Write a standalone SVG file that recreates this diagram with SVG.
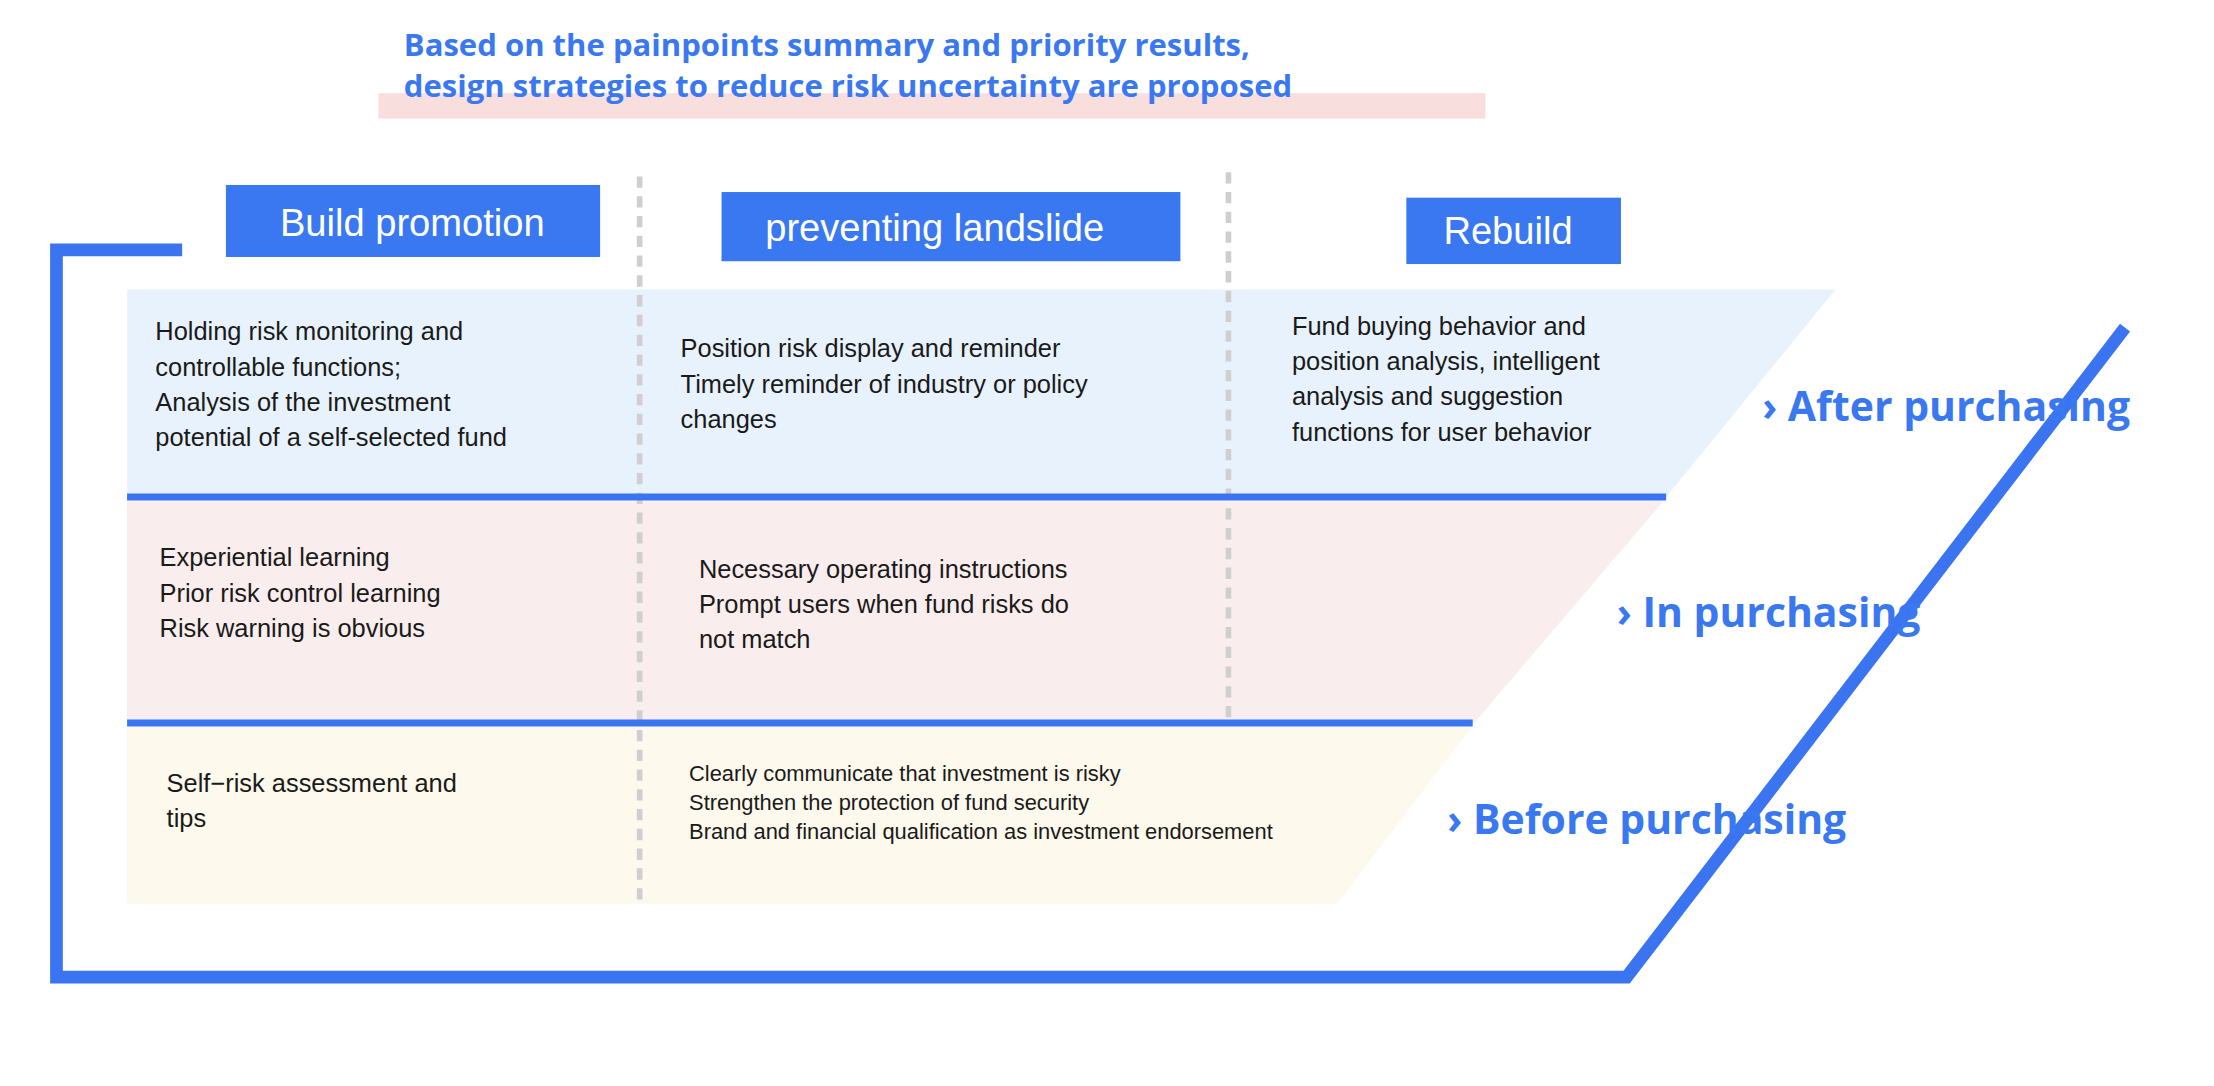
<svg xmlns="http://www.w3.org/2000/svg" width="2214" height="1086" viewBox="0 0 2214 1086">
<style>
.t{font-family:"Liberation Sans",Arial,sans-serif;font-size:18px;fill:#1a1a1a}
.s{font-size:15.5px}
.h{font-family:"Liberation Sans",Arial,sans-serif;font-size:27px;fill:#fff}
.b{font-family:"Open Sans","Liberation Sans",sans-serif;font-weight:bold;fill:#3a78f2}
.hb{fill:#3a78f2}
.d{stroke:#cfcfcf;stroke-width:4;stroke-dasharray:8 6}
.bl{stroke:#3a74f0;fill:none}
</style>
<rect width="2214" height="1086" fill="#fff"/>
<g transform="scale(1.41199)">
<g id="title">
<rect x="268" y="66" width="784" height="18" fill="#f9dede"/>
<text class="b" x="286" y="40" font-size="22">Based on the painpoints summary and priority results,</text>
<text class="b" x="286" y="69" font-size="22">design strategies to reduce risk uncertainty are proposed</text>
</g>
<g id="bands">
<polygon points="90,205 1300,205 1180,352 90,352" fill="#e8f2fd"/>
<polygon points="90,355 1178,355 1044,512 90,512" fill="#f9eded"/>
<polygon points="90,515 1042,515 947,640 90,640" fill="#fdf9ec"/>
</g>
<g id="connectors">
<line class="d" x1="453" y1="125" x2="453" y2="640"/>
<line class="d" x1="870" y1="122" x2="870" y2="512"/>
<line class="bl" x1="90" y1="352" x2="1180" y2="352" stroke-width="5"/>
<line class="bl" x1="90" y1="512" x2="1043" y2="512" stroke-width="5"/>
<polyline class="bl" points="129,177 40,177 40,692 1152,692 1505,232" stroke-width="9"/>
</g>
<g id="h1"><rect class="hb" x="160" y="131" width="265" height="51"/><text class="h" x="292" y="167" text-anchor="middle">Build promotion</text></g>
<g id="h2"><rect class="hb" x="511" y="136" width="325" height="49"/><text class="h" x="662" y="171" text-anchor="middle">preventing landslide</text></g>
<g id="h3"><rect class="hb" x="996" y="140" width="152" height="47"/><text class="h" x="1068" y="173" text-anchor="middle">Rebuild</text></g>
<g id="c11"><text class="t" x="110" y="241">Holding risk monitoring and</text><text class="t" x="110" y="266">controllable functions;</text><text class="t" x="110" y="291">Analysis of the investment</text><text class="t" x="110" y="316">potential of a self-selected fund</text></g>
<g id="c12"><text class="t" x="482" y="253">Position risk display and reminder</text><text class="t" x="482" y="278">Timely reminder of industry or policy</text><text class="t" x="482" y="303">changes</text></g>
<g id="c13"><text class="t" x="915" y="237">Fund buying behavior and</text><text class="t" x="915" y="262">position analysis, intelligent</text><text class="t" x="915" y="287">analysis and suggestion</text><text class="t" x="915" y="312">functions for user behavior</text></g>
<g id="c21"><text class="t" x="113" y="401">Experiential learning</text><text class="t" x="113" y="426">Prior risk control learning</text><text class="t" x="113" y="451">Risk warning is obvious</text></g>
<g id="c22"><text class="t" x="495" y="409">Necessary operating instructions</text><text class="t" x="495" y="434">Prompt users when fund risks do</text><text class="t" x="495" y="459">not match</text></g>
<g id="c31"><text class="t" x="118" y="561">Self−risk assessment and</text><text class="t" x="118" y="586">tips</text></g>
<g id="c32"><text class="t s" x="488" y="553">Clearly communicate that investment is risky</text><text class="t s" x="488" y="574">Strengthen the protection of fund security</text><text class="t s" x="488" y="594">Brand and financial qualification as investment endorsement</text></g>
<g id="l1"><text class="b" x="1248" y="298" font-size="29">› After purchasing</text></g>
<g id="l2"><text class="b" x="1145" y="444" font-size="29">› In purchasing</text></g>
<g id="l3"><text class="b" x="1025" y="591" font-size="29">› Before purchasing</text></g>
</g>
</svg>
